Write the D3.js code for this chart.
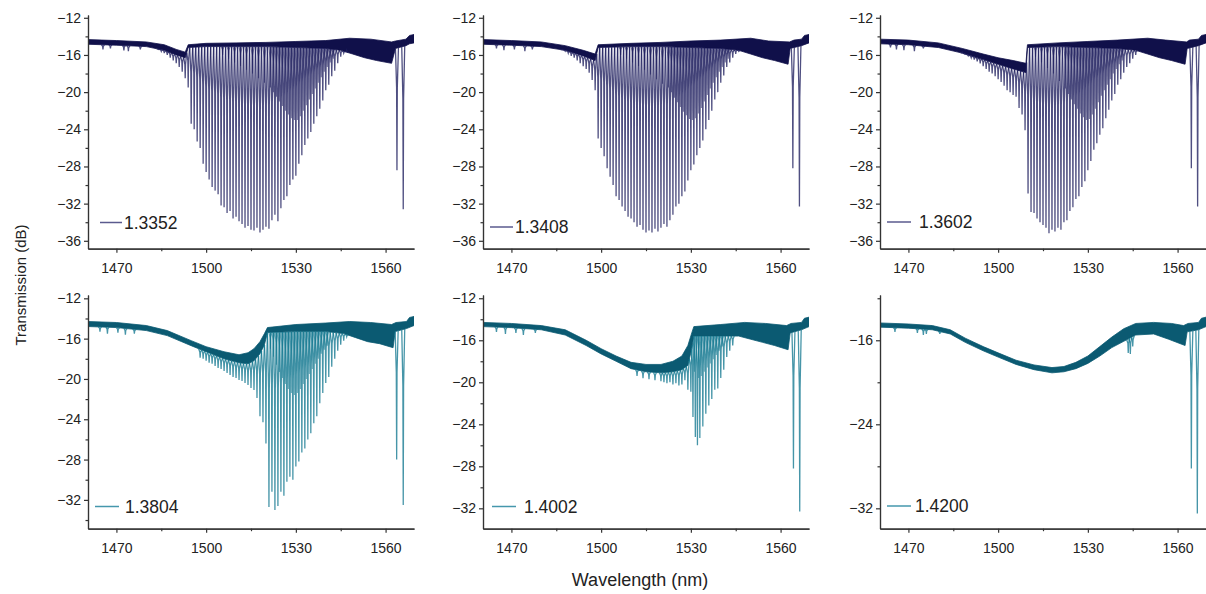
<!DOCTYPE html>
<html>
<head>
<meta charset="utf-8">
<script src="https://cdn.jsdelivr.net/npm/d3@7"></script>
<style>
  body { margin: 0; background: #fff; }
  svg { display: block; font-family: "Liberation Sans", Arial, sans-serif; }
  .axis .domain, .axis line { stroke: #333; stroke-width: 1.2; }
  .axis text { font-size: 14px; fill: #222; }
</style>
</head>
<body>
<svg id="chart" width="1206" height="594"></svg>
<script>
// Legend labels (refractive index of each measurement)
const labels = ["1.3352", "1.3408", "1.3602", "1.3804", "1.4002", "1.4200"];

// Axis ticks
const wlTicks = [1470, 1500, 1530, 1560];
const wlMinor = [1485, 1515, 1545];
const dbTicksTop = [-12, -16, -20, -24, -28, -32, -36];
const dbMinorTop = [-14, -18, -22, -26, -30, -34];
const dbTicksLow = [-12, -16, -20, -24, -28, -32];
const dbMinorLow = [-14, -18, -22, -26, -30, -34];
const dbTicksLast = [-16, -24, -32];
const dbMinorLast = [-12, -20, -28];

// Panel 1 (1.3352): upper / lower edge of the dense band, fringe dips [nm, dB], weaker interleaved dips
const p1Upper = [[1460.5,-14.35],[1470,-14.45],[1480,-14.6],[1486,-14.9],[1490,-15.4],[1493,-15.7],[1494,-14.9],[1500,-14.75],[1510,-14.7],[1520,-14.65],[1530,-14.55],[1540,-14.45],[1548,-14.2],[1555,-14.3],[1562,-14.6],[1563.3,-14.5],[1566.8,-14.3],[1568,-13.9],[1569.5,-13.8]];
const p1Lower = [[1460.5,-14.85],[1470,-14.95],[1480,-15.1],[1486,-15.5],[1490,-16.0],[1493,-16.3],[1494,-15.2],[1500,-15.1],[1510,-15.1],[1520,-15.1],[1530,-15.2],[1540,-15.3],[1545,-15.5],[1549,-15.9],[1553,-16.3],[1557,-16.6],[1562,-16.9],[1563.3,-15.3],[1566.8,-15.0],[1568,-14.8],[1569.5,-14.7]];
const p1Dips = [[1465.5,-15.4],[1468,-15.3],[1472.5,-15.5],[1474,-15.6],[1478,-15.4],
  [1484,-15.4],[1485,-15.6],[1486,-15.8],[1487,-16.0],[1488,-16.3],[1489,-16.6],[1490,-16.9],[1491,-17.3],[1492,-17.8],
  [1493,-18.5],[1494,-19.5],[1495,-23.4],[1496,-24.0],[1497,-25.3],[1498,-26.0],[1499,-27.7],[1500,-28.6],[1501,-29.4],
  [1502,-30.2],[1503,-30.6],[1504,-31.0],[1505,-32.2],[1506,-32.4],[1507,-33.0],[1508,-32.8],[1509,-33.6],[1510,-33.4],
  [1511,-33.9],[1512,-34.2],[1513,-34.6],[1514,-34.4],[1515,-34.8],[1516,-34.9],[1517,-34.6],[1518,-35.1],[1519,-34.8],
  [1520,-34.5],[1521,-34.7],[1522,-33.8],[1523,-33.2],[1524,-33.9],[1525,-32.5],[1526,-31.6],[1527,-31.2],[1528,-30.0],
  [1529,-29.4],[1530,-29.0],[1531,-27.7],[1532,-26.8],[1533,-25.7],[1534,-25.0],[1535,-24.3],[1536,-23.4],[1537,-22.6],
  [1538,-21.8],[1539,-20.9],[1540,-19.8],[1541,-19.2],[1542,-18.3],[1543,-17.7],[1544,-16.9],[1545,-16.2],[1546,-15.8],
  [1547,-15.5],[1563.8,-28.4],[1565.9,-32.6]];
const p1Weak = [[1505.5,-16.0],[1507.5,-16.4],[1509.5,-16.8],[1511.5,-17.2],[1513.5,-17.6],[1515.5,-18.0],[1517.5,-18.5],
  [1519.5,-19.0],[1521.5,-19.5],[1522.5,-20.0],[1523.5,-20.5],[1524.5,-21.0],[1525.5,-21.5],[1526.5,-22.0],[1527.5,-22.4],
  [1528.5,-22.8],[1529.5,-23.0],[1530.5,-23.0],[1531.5,-22.6],[1532.5,-22.0],[1533.5,-21.4],[1534.5,-20.8],[1535.5,-20.2],
  [1536.5,-19.6],[1537.5,-19.0],[1538.5,-18.4],[1539.5,-17.8],[1540.5,-17.3],[1541.5,-16.8],[1542.5,-16.4]];

// Panel 2 (1.3408)
const p2Upper = [[1460.5,-14.35],[1470,-14.45],[1480,-14.6],[1488,-15.0],[1494,-15.5],[1498,-15.9],[1499,-14.9],[1510,-14.75],[1520,-14.65],[1530,-14.5],[1540,-14.4],[1550,-14.2],[1556,-14.5],[1563,-14.6],[1564.5,-14.4],[1567,-14.3],[1568,-13.9],[1569.5,-13.8]];
const p2Lower = [[1460.5,-14.85],[1470,-14.95],[1480,-15.1],[1488,-15.5],[1494,-16.1],[1498,-16.6],[1499,-15.2],[1510,-15.1],[1520,-15.1],[1530,-15.2],[1540,-15.3],[1546,-15.5],[1550,-15.9],[1554,-16.3],[1558,-16.6],[1562.5,-17.0],[1563.2,-15.3],[1567,-15.0],[1569.5,-14.7]];
const p2Dips = [[1465,-15.3],[1467.5,-15.5],[1471,-15.4],[1474.5,-15.6],[1477,-15.4],
  [1487,-15.4],[1488,-15.6],[1489,-15.8],[1490,-16.1],[1491,-16.3],[1492,-16.6],[1493,-16.9],[1494,-17.2],[1495,-17.5],
  [1496,-17.9],[1497,-18.7],[1498,-19.8],[1499,-25.0],[1500,-26.0],[1501,-26.9],[1502,-28.2],[1503,-29.1],[1504,-30.0],
  [1505,-31.2],[1506,-31.6],[1507,-32.3],[1508,-32.8],[1509,-33.4],[1510,-33.6],[1511,-34.0],[1512,-34.5],[1513,-34.3],
  [1514,-34.8],[1515,-35.1],[1516,-34.9],[1517,-35.1],[1518,-34.7],[1519,-35.0],[1520,-34.6],[1521,-34.2],[1522,-34.5],
  [1523,-33.8],[1524,-33.2],[1525,-32.3],[1526,-32.0],[1527,-31.2],[1528,-30.7],[1529,-29.5],[1530,-28.4],[1531,-27.8],
  [1532,-26.8],[1533,-26.0],[1534,-25.2],[1535,-24.0],[1536,-23.0],[1537,-22.0],[1538,-20.8],[1539,-20.0],[1540,-19.0],
  [1541,-18.2],[1542,-17.3],[1543,-16.8],[1544,-16.3],[1545,-15.9],[1546,-15.6],[1564.1,-28.2],[1566.3,-32.3]];
const p2Weak = [[1506.5,-16.0],[1508.5,-16.4],[1510.5,-16.8],[1512.5,-17.2],[1514.5,-17.6],[1516.5,-18.1],[1518.5,-18.6],
  [1520.5,-19.1],[1522.5,-19.5],[1523.5,-20.0],[1524.5,-20.6],[1525.5,-21.1],[1526.5,-21.6],[1527.5,-22.1],[1528.5,-22.5],
  [1529.5,-22.9],[1530.5,-23.0],[1531.5,-22.8],[1532.5,-22.3],[1533.5,-21.7],[1534.5,-21.0],[1535.5,-20.3],[1536.5,-19.6],
  [1537.5,-19.0],[1538.5,-18.4],[1539.5,-17.8],[1540.5,-17.3],[1541.5,-16.8],[1542.5,-16.4]];

// Panel 3 (1.3602)
const p3Upper = [[1460.5,-14.3],[1470,-14.4],[1480,-14.7],[1488,-15.3],[1495,-15.9],[1500,-16.3],[1505,-16.6],[1509.3,-16.9],[1509.8,-14.9],[1520,-14.7],[1530,-14.55],[1540,-14.4],[1550,-14.2],[1556,-14.4],[1563,-14.6],[1564,-14.4],[1567,-14.3],[1568,-13.9],[1569.5,-13.8]];
const p3Lower = [[1460.5,-14.8],[1470,-14.9],[1480,-15.2],[1488,-15.8],[1495,-16.5],[1500,-17.0],[1505,-17.5],[1509.3,-17.9],[1509.8,-15.2],[1520,-15.1],[1530,-15.2],[1540,-15.3],[1546,-15.5],[1550,-15.9],[1554,-16.3],[1558,-16.6],[1562.5,-17.0],[1563.2,-15.3],[1567,-15.0],[1569.5,-14.7]];
const p3Dips = [[1464,-15.2],[1466,-15.4],[1468.5,-15.5],[1472,-15.6],[1475,-15.3],
  [1488,-15.7],[1489,-15.9],[1490,-16.1],[1491,-16.3],[1492,-16.5],[1493,-16.7],[1494,-16.9],[1495,-17.2],[1496,-17.5],
  [1497,-17.8],[1498,-18.0],[1499,-18.3],[1500,-18.6],[1501,-18.9],[1502,-19.3],[1503,-19.8],[1504,-20.0],[1505,-20.3],
  [1506,-20.5],[1507,-21.7],[1508,-22.4],[1509,-24.1],[1510,-30.9],[1511,-32.9],[1512,-33.0],[1513,-33.6],[1514,-34.0],
  [1515,-34.3],[1516,-34.6],[1517,-35.2],[1518,-34.8],[1519,-35.0],[1520,-34.6],[1521,-34.8],[1522,-34.0],[1523,-33.8],
  [1524,-32.8],[1525,-32.4],[1526,-31.5],[1527,-31.2],[1528,-30.2],[1529,-29.6],[1530,-28.4],[1531,-27.4],[1532,-26.2],
  [1533,-25.5],[1534,-24.6],[1535,-23.9],[1536,-22.8],[1537,-21.9],[1538,-20.9],[1539,-20.2],[1540,-19.2],[1541,-18.6],
  [1542,-17.9],[1543,-17.3],[1544,-16.9],[1545,-16.4],[1546,-16.0],[1564.6,-28.2],[1566.7,-32.3]];
const p3Weak = [[1512.5,-16.2],[1514.5,-16.8],[1516.5,-17.4],[1518.5,-18.0],[1520.5,-18.8],[1522.5,-19.6],[1523.5,-20.2],
  [1524.5,-20.8],[1525.5,-21.3],[1526.5,-21.8],[1527.5,-22.3],[1528.5,-22.7],[1529.5,-23.0],[1530.5,-22.9],[1531.5,-22.4],
  [1532.5,-21.8],[1533.5,-21.1],[1534.5,-20.4],[1535.5,-19.8],[1536.5,-19.2],[1537.5,-18.6],[1538.5,-18.0],[1539.5,-17.5],
  [1540.5,-17.0],[1541.5,-16.6]];

// Panel 4 (1.3804)
const p4Upper = [[1460.5,-14.3],[1470,-14.4],[1480,-14.7],[1487,-15.2],[1495,-16.2],[1500,-16.8],[1506,-17.3],[1511,-17.6],[1514,-17.4],[1516,-17.0],[1518,-16.3],[1519.5,-15.5],[1520.5,-14.9],[1530,-14.6],[1540,-14.45],[1548,-14.3],[1555,-14.4],[1562,-14.6],[1563.5,-14.4],[1567,-14.3],[1568,-13.9],[1569.5,-13.8]];
const p4Lower = [[1460.5,-14.8],[1470,-14.9],[1480,-15.2],[1487,-15.7],[1495,-16.7],[1500,-17.3],[1506,-18.0],[1511,-18.4],[1514,-18.5],[1516,-18.2],[1518,-17.5],[1519.5,-16.6],[1520.5,-15.4],[1530,-15.3],[1540,-15.3],[1546,-15.5],[1550,-15.9],[1554,-16.3],[1558,-16.5],[1562.5,-16.9],[1563.2,-15.3],[1567,-15.0],[1569.5,-14.7]];
const p4Dips = [[1464.5,-15.3],[1467,-15.5],[1470.5,-15.4],[1473,-15.6],[1476,-15.5],
  [1498,-17.9],[1499,-18.0],[1500,-18.2],[1501,-18.4],[1502,-18.5],[1503,-18.7],[1504,-18.9],[1505,-19.0],[1506,-19.2],
  [1507,-19.4],[1508,-19.6],[1509,-19.8],[1510,-19.9],[1511,-20.1],[1512,-20.2],[1513,-20.4],[1514,-20.6],[1515,-20.9],
  [1516,-21.1],[1517,-21.9],[1518,-23.7],[1519,-24.3],[1520,-26.4],[1521,-32.7],[1522,-31.2],[1523,-33.0],[1524,-32.6],
  [1525,-31.2],[1526,-31.6],[1527,-30.2],[1528,-29.7],[1529,-30.0],[1530,-28.7],[1531,-28.2],[1532,-27.3],[1533,-26.9],
  [1534,-26.0],[1535,-25.4],[1536,-24.4],[1537,-23.7],[1538,-22.4],[1539,-21.4],[1540,-20.4],[1541,-19.8],[1542,-18.8],
  [1543,-18.0],[1544,-17.2],[1545,-16.6],[1546,-16.2],[1547,-15.8],[1563.7,-28.0],[1565.9,-32.5]];
const p4Weak = [[1521.5,-17.0],[1522.5,-17.8],[1523.5,-18.6],[1524.5,-19.3],[1525.5,-19.9],[1526.5,-20.5],[1527.5,-21.0],
  [1528.5,-21.4],[1529.5,-21.6],[1530.5,-21.4],[1531.5,-21.0],[1532.5,-20.5],[1533.5,-20.0],[1534.5,-19.5],[1535.5,-19.0],
  [1536.5,-18.5],[1537.5,-18.0],[1538.5,-17.5],[1539.5,-17.1],[1540.5,-16.7]];

// Panel 5 (1.4002)
const p5Upper = [[1460.5,-14.3],[1470,-14.4],[1480,-14.6],[1488,-15.0],[1495,-16.0],[1500,-16.8],[1505,-17.5],[1510,-18.1],[1515,-18.3],[1520,-18.3],[1524,-18.0],[1527,-17.5],[1529,-16.5],[1530.3,-15.3],[1531,-14.7],[1540,-14.5],[1548,-14.3],[1555,-14.4],[1562,-14.6],[1563.5,-14.4],[1567,-14.3],[1568,-13.9],[1569.5,-13.8]];
const p5Lower = [[1460.5,-14.7],[1470,-14.8],[1480,-15.0],[1488,-15.5],[1495,-16.5],[1500,-17.3],[1505,-18.0],[1510,-18.7],[1515,-19.0],[1520,-19.1],[1524,-19.0],[1527,-18.8],[1529,-18.4],[1530.3,-16.8],[1531,-15.6],[1540,-15.6],[1546,-15.6],[1550,-15.9],[1554,-16.2],[1558,-16.5],[1562.5,-16.9],[1563.2,-15.3],[1567,-15.0],[1569.5,-14.7]];
const p5Dips = [[1465,-15.2],[1468,-15.4],[1471.5,-15.3],[1474,-15.5],[1478,-15.3],
  [1512,-19.4],[1514,-19.6],[1516,-19.7],[1518,-19.8],
  [1520,-19.9],[1521,-20.0],[1522,-20.1],[1523,-20.0],[1524,-20.2],[1525,-20.1],[1526,-20.3],[1527,-20.2],[1528,-19.8],
  [1529,-20.7],[1530,-20.9],[1530.7,-23.3],[1531.5,-25.2],[1532.2,-26.0],[1533,-25.3],[1534,-24.2],[1535,-23.0],
  [1536,-22.2],[1537,-21.6],[1538,-20.7],[1539,-20.6],[1540,-19.6],[1541,-18.8],[1542,-17.6],[1543,-17.0],[1544,-16.5],
  [1564.3,-28.2],[1566.4,-32.3]];
const p5Weak = [[1531.2,-19.0],[1532.6,-19.6],[1533.5,-19.4],[1534.5,-19.0],[1535.5,-18.6],[1536.5,-18.2],[1537.5,-17.8],
  [1538.5,-17.4],[1539.5,-17.0],[1540.5,-16.6]];

// Panel 6 (1.4200)
const p6Upper = [[1460.5,-14.35],[1470,-14.45],[1478,-14.6],[1484,-15.0],[1489,-15.8],[1495,-16.6],[1500,-17.2],[1506,-17.9],[1512,-18.35],[1518,-18.6],[1522,-18.5],[1526,-18.1],[1530,-17.5],[1534,-16.6],[1538,-15.7],[1542,-14.9],[1546,-14.4],[1552,-14.3],[1558,-14.4],[1562,-14.6],[1563.5,-14.4],[1567,-14.3],[1568,-13.9],[1569.5,-13.8]];
const p6Lower = [[1460.5,-14.75],[1470,-14.85],[1478,-15.0],[1484,-15.4],[1489,-16.2],[1495,-17.0],[1500,-17.6],[1506,-18.3],[1512,-18.8],[1518,-19.1],[1522,-19.0],[1526,-18.7],[1530,-18.2],[1534,-17.5],[1538,-16.7],[1542,-16.1],[1546,-15.5],[1552,-15.4],[1557,-15.9],[1562.5,-16.5],[1563.2,-15.2],[1567,-15.0],[1569.5,-14.7]];
const p6Dips = [[1465.5,-15.2],[1473,-15.3],[1475,-15.5],[1476,-15.4],[1480.5,-15.4],
  [1543.5,-17.2],[1544.2,-17.3],[1545,-16.6],[1564.6,-28.2],[1566.6,-32.5]];
const p6Weak = [];

// ---- layout ----
const colLeft = [88, 483, 880];
const plotW = 326;
const rowTop = [15, 295];
const rowBottom = [248.7, 528.7];
const xDomain = [1460.5, 1569.5];
const bandColor = ["#10104a", "#0b5a72"];
const dipColor = ["#1e1e5e", "#127790"];
const keyColor = ["#5a5a8e", "#4597ac"];

const panels = [
  { upper: p1Upper, lower: p1Lower, dips: p1Dips, weak: p1Weak, row: 0, col: 0, yDomain: [-36.85, -11.7], major: dbTicksTop, minor: dbMinorTop, key: [100, 122, 222.5, 124] },
  { upper: p2Upper, lower: p2Lower, dips: p2Dips, weak: p2Weak, row: 0, col: 1, yDomain: [-36.85, -11.7], major: dbTicksTop, minor: dbMinorTop, key: [490, 513, 227, 515] },
  { upper: p3Upper, lower: p3Lower, dips: p3Dips, weak: p3Weak, row: 0, col: 2, yDomain: [-36.85, -11.7], major: dbTicksTop, minor: dbMinorTop, key: [887, 911, 222, 919] },
  { upper: p4Upper, lower: p4Lower, dips: p4Dips, weak: p4Weak, row: 1, col: 0, yDomain: [-34.86, -11.67], major: dbTicksLow, minor: dbMinorLow, key: [95, 119, 506.5, 125] },
  { upper: p5Upper, lower: p5Lower, dips: p5Dips, weak: p5Weak, row: 1, col: 1, yDomain: [-33.94, -11.69], major: dbTicksLow, minor: dbMinorLow.slice(0, 5), key: [492, 516, 506.5, 524] },
  { upper: p6Upper, lower: p6Lower, dips: p6Dips, weak: p6Weak, row: 1, col: 2, yDomain: [-33.94, -11.69], major: dbTicksLast, minor: dbMinorLast, key: [887, 911, 506, 915] }
];

const svg = d3.select('#chart');
// dip shape: wide wings near the band, narrow spike below the knee
const wing = 0.5, spike = 0.12, knee = 0.32;

panels.forEach((p, i) => {
  const left = colLeft[p.col];
  const top = rowTop[p.row];
  const bottom = rowBottom[p.row];
  const x = d3.scaleLinear().domain(xDomain).range([left, left + plotW]);
  const y = d3.scaleLinear().domain(p.yDomain).range([bottom, top]);

  svg.append('clipPath').attr('id', 'clip' + i)
    .append('rect')
    .attr('x', left).attr('y', top - 2)
    .attr('width', plotW).attr('height', bottom - top + 2);

  const plot = svg.append('g').attr('clip-path', `url(#clip${i})`);
  const line = d3.line().x(d => x(d[0])).y(d => y(d[1]));

  // dense band of fine ripples
  plot.append('path')
    .attr('d', line(p.upper.concat(p.lower.slice().reverse())) + 'Z')
    .attr('fill', bandColor[p.row])
    .attr('stroke', bandColor[p.row])
    .attr('stroke-width', 0.8);

  // fringe dips hang from the lower edge of the band
  const lowerAt = d3.scaleLinear()
    .domain(p.lower.map(d => d[0]))
    .range(p.lower.map(d => d[1]))
    .clamp(true);

  const dipPath = d => {
    const t0 = lowerAt(d[0] - wing), t1 = lowerAt(d[0] + wing);
    const k = lowerAt(d[0]) + knee * (d[1] - lowerAt(d[0]));
    return line([[d[0] - wing, t0], [d[0] - spike, k], [d[0], d[1]], [d[0] + spike, k], [d[0] + wing, t1]]);
  };

  plot.selectAll('path.weak')
    .data(p.weak)
    .join('path')
    .attr('class', 'weak')
    .attr('d', dipPath)
    .attr('fill', 'none')
    .attr('stroke', dipColor[p.row])
    .attr('stroke-width', 1.1)
    .attr('stroke-opacity', 0.6);

  plot.selectAll('path.dip')
    .data(p.dips)
    .join('path')
    .attr('class', 'dip')
    .attr('d', dipPath)
    .attr('fill', 'none')
    .attr('stroke', dipColor[p.row])
    .attr('stroke-width', 1.3)
    .attr('stroke-opacity', 0.78);

  // axes
  svg.append('g').attr('class', 'axis')
    .attr('transform', `translate(${left},0)`)
    .call(d3.axisLeft(y).tickValues(p.minor).tickSize(2.5).tickSizeOuter(0).tickFormat(''));
  svg.append('g').attr('class', 'axis')
    .attr('transform', `translate(${left},0)`)
    .call(d3.axisLeft(y).tickValues(p.major).tickSize(4).tickSizeOuter(0).tickPadding(3).tickFormat(d3.format('d')));
  svg.append('g').attr('class', 'axis')
    .attr('transform', `translate(0,${bottom})`)
    .call(d3.axisBottom(x).tickValues(wlMinor).tickSize(2.5).tickSizeOuter(0).tickFormat(''));
  svg.append('g').attr('class', 'axis')
    .attr('transform', `translate(0,${bottom})`)
    .call(d3.axisBottom(x).tickValues(wlTicks).tickSize(4).tickSizeOuter(0).tickPadding(10).tickFormat(d3.format('d')));

  // legend key
  const [kx1, kx2, ky, tx] = p.key;
  svg.append('line')
    .attr('x1', kx1).attr('x2', kx2).attr('y1', ky).attr('y2', ky)
    .attr('stroke', keyColor[p.row]).attr('stroke-width', 1.5);
  svg.append('text')
    .attr('x', tx).attr('y', ky + 6)
    .attr('font-size', 17.5).attr('fill', '#222')
    .text(labels[i]);
});

// axis titles
svg.append('text')
  .attr('transform', 'translate(26,285) rotate(-90)')
  .attr('text-anchor', 'middle')
  .attr('font-size', 15).attr('fill', '#222')
  .text('Transmission (dB)');

svg.append('text')
  .attr('x', 640).attr('y', 586)
  .attr('text-anchor', 'middle')
  .attr('font-size', 18).attr('fill', '#222')
  .text('Wavelength (nm)');
</script>
</body>
</html>
